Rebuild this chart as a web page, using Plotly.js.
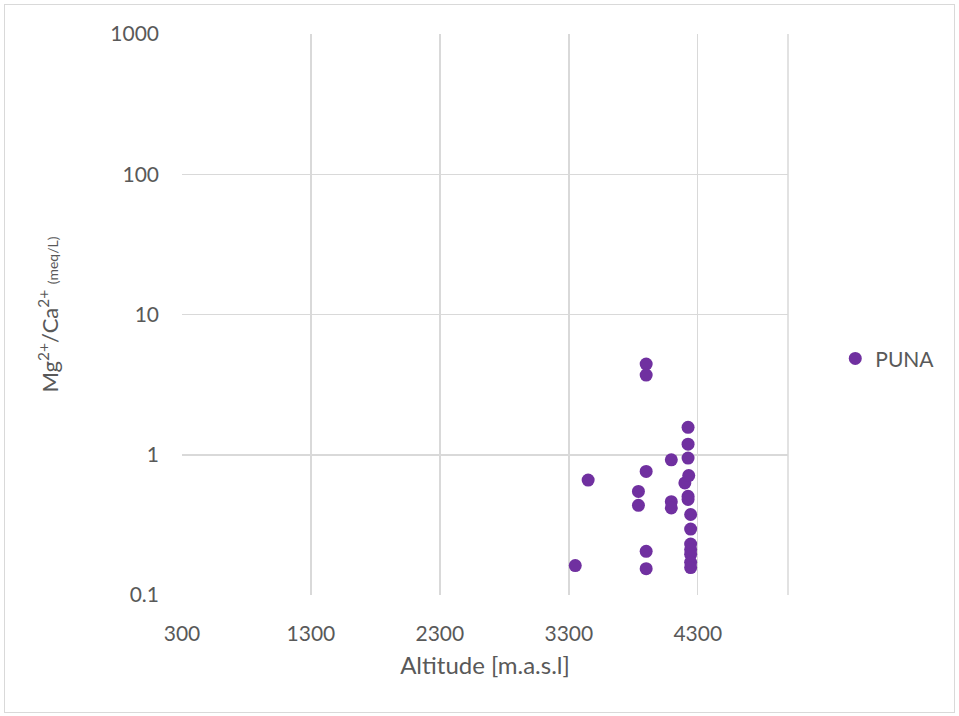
<!DOCTYPE html>
<html>
<head>
<meta charset="utf-8">
<script src="https://cdn.plot.ly/plotly-3.0.1.min.js"></script>
<style>
  html, body { margin: 0; padding: 0; background: #ffffff; }
  #wrap { position: relative; width: 959px; height: 716px; }
  #chart { width: 959px; height: 716px; }
  #frame { position: absolute; left: 4px; top: 4px; width: 949px; height: 707px;
           border: 1px solid #d9d9d9; pointer-events: none; }
</style>
</head>
<body>
<div id="wrap">
  <div id="chart"></div>
  <div id="frame"></div>
</div>
<script>
// Altitude of each sampling point (m a.s.l.) and its Mg2+/Ca2+ ratio (meq/L)
const seriesName = "PUNA";
const altitude = [
  3350, 3450, 3840, 3840, 3900, 3900, 3900, 3900, 3900,
  4095, 4095, 4095, 4200, 4225, 4225, 4225, 4230, 4225, 4225,
  4245, 4245, 4245, 4245, 4245, 4245, 4245
];
const mgCaRatio = [
  0.162, 0.66, 0.548, 0.436, 4.43, 3.70, 0.76, 0.205, 0.154,
  0.92, 0.463, 0.418, 0.63, 1.57, 1.19, 0.947, 0.71, 0.506, 0.48,
  0.375, 0.295, 0.231, 0.211, 0.195, 0.171, 0.157
];
const xTicks = [300, 1300, 2300, 3300, 4300];
const yTicks = [0.1, 1, 10, 100, 1000];
const yTickText = ["0.1", "1", "10", "100", "1000"];

const textColor = "#595959";
const gridColor = "#d9d9d9";
const fontFamily = "Lato, 'Open Sans', sans-serif";

const trace = {
  type: "scatter",
  mode: "markers",
  name: seriesName,
  x: altitude,
  y: mgCaRatio,
  marker: { color: "#7030a0", size: 13 },
  showlegend: true
};

const layout = {
  width: 959,
  height: 716,
  margin: { l: 181.5, r: 171, t: 33.5, b: 120.5, pad: 0 },
  paper_bgcolor: "#ffffff",
  plot_bgcolor: "#ffffff",
  font: { family: fontFamily, size: 21, color: textColor },
  xaxis: {
    range: [300, 5000],
    tickvals: xTicks,
    ticktext: xTicks.map(String),
    showgrid: true,
    gridcolor: gridColor,
    gridwidth: 1.5,
    zeroline: false,
    showline: false,
    ticks: "",
    ticklabelstandoff: 24,
    tickfont: { family: fontFamily, size: 21, color: textColor },
    title: { text: "Altitude [m.a.s.l]", font: { family: fontFamily, size: 24, color: textColor }, standoff: 13 }
  },
  yaxis: {
    type: "log",
    range: [-1, 3],
    tickvals: yTicks,
    ticktext: yTickText,
    showgrid: true,
    gridcolor: gridColor,
    gridwidth: 1.5,
    zeroline: false,
    showline: false,
    ticks: "",
    ticklabelstandoff: 22,
    tickfont: { family: fontFamily, size: 21, color: textColor },
    title: {
      text: "Mg<sup>2+</sup>/Ca<sup>2+</sup> <span style=\"font-size:14px\">(meq/L)</span>",
      font: { family: fontFamily, size: 22, color: textColor },
      standoff: 45
    }
  },
  legend: {
    x: 1.078,
    xanchor: "left",
    y: 0.421,
    yanchor: "middle",
    bgcolor: "rgba(0,0,0,0)",
    font: { family: fontFamily, size: 21, color: textColor }
  },
  shapes: [
    // right edge of the plotting area
    { type: "line", xref: "paper", yref: "paper", x0: 1, x1: 1, y0: 0, y1: 1,
      line: { color: gridColor, width: 1.5 } }
  ]
};

Plotly.newPlot("chart", [trace], layout, { displayModeBar: false, staticPlot: true });
</script>
</body>
</html>
